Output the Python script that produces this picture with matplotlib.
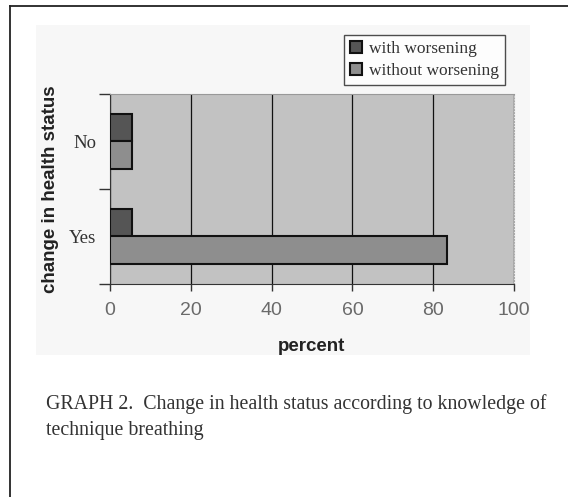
import numpy as np
import matplotlib.pyplot as plt
from matplotlib.patches import Rectangle
from matplotlib.lines import Line2D

categories = ["Yes", "No"]
with_worsening = [5.5, 5.5]
without_worsening = [83.5, 5.5]
series_names = ["with worsening", "without worsening"]
x_ticks = [0, 20, 40, 60, 80, 100]

fig = plt.figure(figsize=(5.68, 4.97), dpi=100)

# page frame (left and top line only) and light chart background
fig.add_artist(Line2D([10/568, 10/568], [0, 1 - 6/497], color="#222222", lw=1.3))
fig.add_artist(Line2D([10/568, 1], [1 - 6/497, 1 - 6/497], color="#222222", lw=1.3))
fig.add_artist(Rectangle((36/568, 1 - 355/497), (530 - 36)/568, (355 - 25)/497,
                         facecolor="#f7f7f7", edgecolor="none", zorder=0))

ax = fig.add_axes([110/568, 1 - 284/497, 404/568, 190/497])
ax.set_facecolor("#c2c2c2")

y = np.arange(len(categories)) + 0.5
h = 0.285
ax.barh(y + h/2, with_worsening, height=h, color="#555555", edgecolor="#111111",
        lw=1.5, label=series_names[0], zorder=3)
ax.barh(y - h/2, without_worsening, height=h, color="#8e8e8e", edgecolor="#111111",
        lw=1.5, label=series_names[1], zorder=3)

ax.set_xlim(0, 100)
ax.set_ylim(0, 2)
ax.set_xticks(x_ticks)
ax.set_xticklabels([str(t) for t in x_ticks], family="Liberation Sans", fontsize=14,
                   color="#6a6a6a")
ax.tick_params(axis="x", length=5, width=1, color="#333333", pad=8)

ax.set_yticks(y)
ax.set_yticklabels(categories, family="Liberation Serif", fontsize=13.5, color="#333333")
ax.set_yticks([0, 1, 2], minor=True)
ax.tick_params(axis="y", which="major", length=0, pad=10)
ax.tick_params(axis="y", which="minor", length=8, width=1, color="#333333")

ax.grid(axis="x", color="#111111", lw=0.9, zorder=1)
ax.spines["left"].set_color("#333333")
ax.spines["bottom"].set_color("#333333")
ax.spines["top"].set_color("#999999")
ax.spines["right"].set_color("#aaaaaa")
ax.spines["right"].set_linestyle(":")

ax.set_xlabel("percent", family="Liberation Sans", fontweight="bold", fontsize=13.5,
              color="#222222", labelpad=14)
ax.set_ylabel("change in health status", family="Liberation Sans", fontweight="bold",
              fontsize=13.5, color="#222222", labelpad=7)

handles, labels = ax.get_legend_handles_labels()
leg = fig.legend(handles, labels, loc="upper right", bbox_to_anchor=(514/568, 1 - 26/497),
                 prop={"family": "Liberation Serif", "size": 12.5}, frameon=True,
                 fancybox=False, edgecolor="#222222", handlelength=0.7, handleheight=0.7,
                 handletextpad=0.4, borderpad=0.35, labelspacing=0.35)
leg.get_frame().set_facecolor("white")
leg.get_frame().set_linewidth(1)
for t in leg.get_texts():
    t.set_color("#333333")

fig.text(46/568, 1 - 409/497,
         "GRAPH 2.  Change in health status according to knowledge of",
         family="Liberation Serif", fontsize=14.3, color="#333333")
fig.text(46/568, 1 - 435/497, "technique breathing",
         family="Liberation Serif", fontsize=14.3, color="#333333")

fig.savefig("out.png", dpi=100)
